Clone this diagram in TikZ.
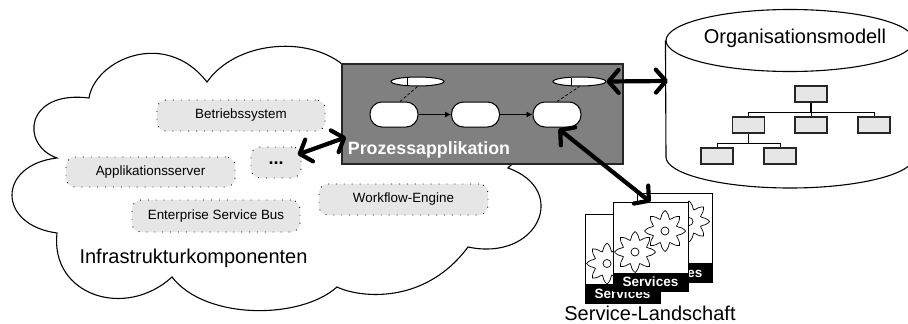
\documentclass[tikz,border=0pt]{standalone}
\usepackage{fontspec}
\setmainfont{Liberation Sans}
\usetikzlibrary{arrows.meta,shapes.geometric,shapes.misc}

\definecolor{prozgray}{HTML}{808080}
\definecolor{compgray}{HTML}{E6E6E6}

\tikzset{
	component/.style={rectangle,rounded corners=9pt,fill=compgray,draw=black,line width=.9pt,dash pattern=on .9pt off 7pt,font=\fontsize{13.4}{15}\selectfont,inner sep=0pt},
	activity/.style={rectangle,rounded corners=12pt,fill=white,draw=black,line width=1pt,minimum width=48pt,minimum height=25pt,inner sep=0pt},
	dataobj/.style={ellipse,fill=white,draw=black,line width=1pt,minimum width=53pt,minimum height=9pt,inner sep=0pt},
	orgbox/.style={rectangle,fill=compgray,draw=black!85,line width=1.1pt,minimum width=32pt,minimum height=16pt,inner sep=0pt},
	bigarrow/.style={line width=4.2pt,line cap=round,{Straight Barb[length=10pt,width=23pt,round]}-{Straight Barb[length=10pt,width=23pt,round]}},
	card/.style={rectangle,fill=white,draw=black,line width=.8pt,minimum width=75pt,minimum height=89pt,inner sep=0pt},
	cardband/.style={rectangle,fill=black,text=white,font=\bfseries\fontsize{13.5}{15}\selectfont,minimum width=75pt,minimum height=19pt,inner sep=0pt},
	biglabel/.style={font=\fontsize{20}{22}\selectfont,inner sep=0pt},
}

% one cog wheel of a service card
\newcommand{\cogwheel}[2]{
	\draw[fill=white,line width=.7pt] plot[smooth cycle,tension=.5,samples=32,domain=0:348.75,variable=\t] ({#1+(16.5+4*cos(8*\t))*cos(\t)},{#2+(16.5+4*cos(8*\t))*sin(\t)});
	\draw[fill=white,line width=.7pt] (#1,#2) circle (4pt);
}

\begin{document}
\begin{tikzpicture}[x=1pt,y=-1pt]
	\useasboundingbox (0,0) rectangle (908,324);

	% cloud
	\draw[line width=1.1pt,fill=white] (342,64)
		.. controls (305,35) and (235,42) .. (207,82)
		.. controls (165,28) and (95,60) .. (89,98)
		.. controls (25,90) and (20,145) .. (57,158)
		.. controls (-3,165) and (-3,225) .. (57,233)
		.. controls (50,295) and (125,320) .. (172,277)
		.. controls (205,320) and (300,320) .. (337,287)
		.. controls (360,298) and (425,305) .. (468,247)
		.. controls (538,262) and (570,190) .. (508,168)
		-- (512,164) -- cycle;

	\node[component,minimum width=168pt,minimum height=31pt] (betrieb) at (241,115.5) {Betriebssystem};
	\node[component,minimum width=169pt,minimum height=30pt] (appserver) at (150.5,172) {Applikationsserver};
	\node[component,minimum width=168pt,minimum height=32pt] (esb) at (216,216) {Enterprise Service Bus};
	\node[component,minimum width=169pt,minimum height=31pt] (engine) at (403.5,199.5) {Workflow-Engine};
	\node[component,minimum width=50pt,minimum height=31pt,font=\bfseries\fontsize{18}{20}\selectfont] (more) at (276,162.5) {\raisebox{-4pt}{...}};
	\node[biglabel] (infra) at (193.5,258) {Infrastrukturkomponenten};

	% process application
	\node[rectangle,fill=prozgray,draw=black!85,line width=1.2pt,minimum width=281pt,minimum height=100pt,inner sep=0pt] (prozess) at (482.5,114) {};
	\node[font=\bfseries\fontsize{17.8}{20}\selectfont,text=white,inner sep=0pt] (prozlabel) at (429,149.5) {Prozessapplikation};
	\node[activity] (acta) at (394,114.5) {};
	\node[activity] (actb) at (475.5,114.5) {};
	\node[activity] (actc) at (557,114.5) {};
	\node[dataobj] (dataa) at (417.5,81.5) {};
	\node[dataobj] (datac) at (579.5,81.5) {};
	\draw[line width=.8pt] (407,77.5) -- (407,85.5);
	\draw[line width=.8pt] (571,77.5) -- (571,85.5);
	\draw[densely dashed,line width=.7pt] (acta.north) ++(6,0) -- (dataa.south);
	\draw[densely dashed,line width=.7pt] (actc.north) -- (datac.south);
	\draw[-{Latex[length=6pt,width=6pt]},line width=.8pt] (acta) -- (actb);
	\draw[-{Latex[length=6pt,width=6pt]},line width=.8pt] (actb) -- (actc);

	% organisation model
	\node[ellipse,draw=black,line width=1.1pt,fill=white,minimum width=248pt,minimum height=62pt,inner sep=0pt] (orgcap) at (790,40.5) {};
	\draw[line width=1.1pt] (orgcap.west) -- (666,157) .. controls (666,174) and (721.5,188) .. (790,188) .. controls (858.5,188) and (914,174) .. (914,157) -- (orgcap.east);
	\coordinate (orgwall) at (668,81);
	\node[biglabel] (orglabel) at (795,38) {Organisationsmodell};
	\node[orgbox] (orgtop) at (811,94) {};
	\node[orgbox] (orgl) at (748.5,125) {};
	\node[orgbox] (orgm) at (811,125) {};
	\node[orgbox] (orgr) at (874,125) {};
	\node[orgbox] (orgla) at (717,156) {};
	\node[orgbox] (orglb) at (780,156) {};
	\foreach \child in {orgl,orgm,orgr}
		\draw[line width=.6pt] (orgtop.south) ++(0,10) -| (\child.north);
	\foreach \child in {orgla,orglb}
		\draw[line width=.6pt] (orgl.south) ++(0,10) -| (\child.north);
	\draw[line width=1.2pt] (orgtop.south) -- ++(0,10);
	\draw[line width=1.2pt] (orgl.south) -- ++(0,10);

	% services
	\foreach \cardname/\x/\y in {cardback/674.5/237.5,cardleft/622.5/258.5,cardfront/650.5/247}{
		\node[card] (\cardname) at (\x,\y) {};
		\node[cardband] (\cardname band) at (\x,\y+35) {Services};
		\cogwheel{\x+14.5}{\y-16}
		\cogwheel{\x-15.5}{\y+5}
	}
	\node[biglabel] (landschaft) at (650,313.5) {Service-Landschaft};

	% connections
	\draw[bigarrow,shorten <=-4pt,shorten >=-5pt] (more.20) -- (prozess.190);
	\draw[bigarrow] (datac.east) -- (orgwall);
	\draw[bigarrow,shorten <=2pt] (actc.south) -- (cardfront.north);
\end{tikzpicture}
\end{document}
